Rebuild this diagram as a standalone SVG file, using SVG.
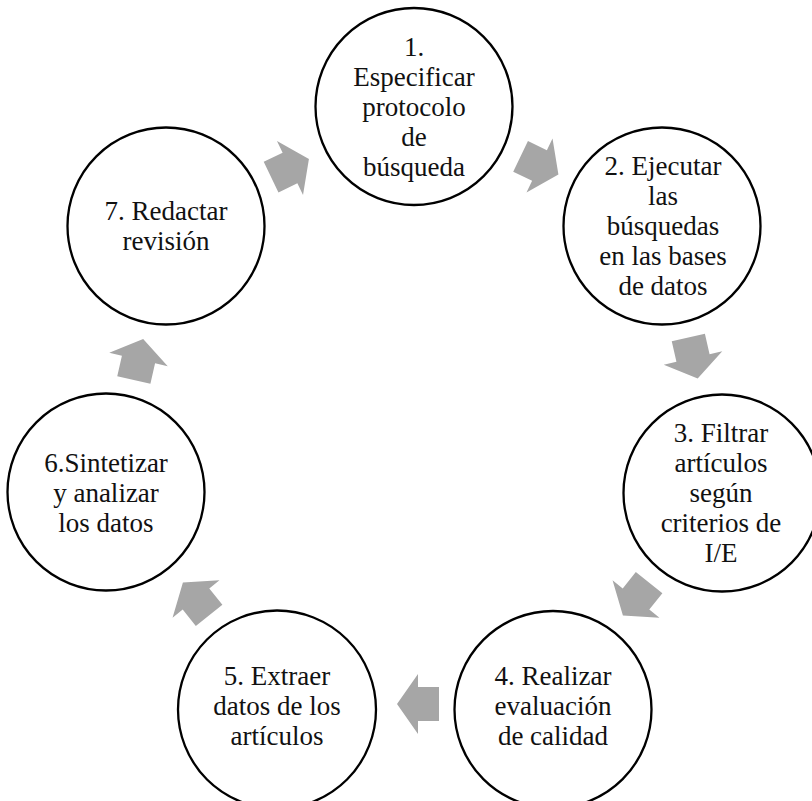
<svg xmlns="http://www.w3.org/2000/svg" xmlns:xlink="http://www.w3.org/1999/xlink" width="812" height="801" viewBox="0 0 812 801">
  <style>
    .node circle { fill: #ffffff; stroke: #000000; stroke-width: 2.3; }
    .node text { font-family: "Liberation Serif", "Times New Roman", serif; font-size: 27px; fill: #111111; text-anchor: middle; }
    .arrow { fill: #A6A6A6; }
  </style>
  <defs>
    <path id="blockArrow" class="arrow" d="M-21,-17 L0,-17 L0,-30 L21,0 L0,30 L0,17 L-21,17 Z"/>
  </defs>
  <rect width="812" height="801" fill="#ffffff"/>

  <g id="connectors">
    <use xlink:href="#blockArrow" href="#blockArrow" transform="translate(539.5,165.5) rotate(25.714)"/>
    <use xlink:href="#blockArrow" href="#blockArrow" transform="translate(693,358) rotate(77.143)"/>
    <use xlink:href="#blockArrow" href="#blockArrow" transform="translate(636,599) rotate(128.571)"/>
    <use xlink:href="#blockArrow" href="#blockArrow" transform="translate(418,704) rotate(180)"/>
    <use xlink:href="#blockArrow" href="#blockArrow" transform="translate(196,599) rotate(231.429)"/>
    <use xlink:href="#blockArrow" href="#blockArrow" transform="translate(138.5,359.5) rotate(282.857)"/>
    <use xlink:href="#blockArrow" href="#blockArrow" transform="translate(290,168) rotate(334.286)"/>
  </g>

  <g id="node1" class="node">
    <circle cx="414" cy="106.5" r="98.5"/>
    <text x="414" y="56">1.</text>
    <text x="414" y="86">Especificar</text>
    <text x="414" y="116">protocolo</text>
    <text x="414" y="146">de</text>
    <text x="414" y="176">búsqueda</text>
  </g>

  <g id="node2" class="node">
    <circle cx="662" cy="226" r="98.5"/>
    <text x="663" y="175">2. Ejecutar</text>
    <text x="663" y="205">las</text>
    <text x="663" y="235">búsquedas</text>
    <text x="663" y="265">en las bases</text>
    <text x="663" y="295">de datos</text>
  </g>

  <g id="node3" class="node">
    <circle cx="722" cy="493" r="98.5"/>
    <text x="721" y="442">3. Filtrar</text>
    <text x="721" y="472">artículos</text>
    <text x="721" y="502">según</text>
    <text x="721" y="532">criterios de</text>
    <text x="721" y="562">I/E</text>
  </g>

  <g id="node4" class="node">
    <circle cx="553" cy="709.5" r="98.5"/>
    <text x="553" y="685">4. Realizar</text>
    <text x="553" y="715">evaluación</text>
    <text x="553" y="745">de calidad</text>
  </g>

  <g id="node5" class="node">
    <circle cx="277" cy="709.5" r="99"/>
    <text x="277" y="685">5. Extraer</text>
    <text x="277" y="715">datos de los</text>
    <text x="277" y="745">artículos</text>
  </g>

  <g id="node6" class="node">
    <circle cx="106" cy="492" r="98.5"/>
    <text x="106" y="472">6.Sintetizar</text>
    <text x="106" y="502">y analizar</text>
    <text x="106" y="532">los datos</text>
  </g>

  <g id="node7" class="node">
    <circle cx="166" cy="226" r="98.5"/>
    <text x="166" y="220">7. Redactar</text>
    <text x="166" y="250">revisión</text>
  </g>
</svg>
